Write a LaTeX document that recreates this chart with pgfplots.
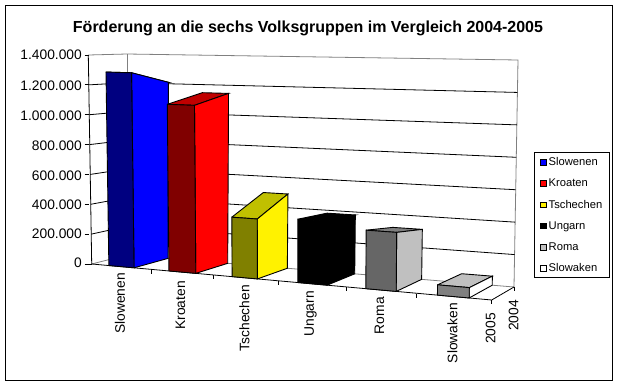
\documentclass[border=0pt]{standalone}
\usepackage{pgfplots}
\usepackage{fontspec}
\setmainfont{Liberation Sans}
\pgfplotsset{compat=1.18}
\definecolor{navyf}{HTML}{000080}
\definecolor{kf}{HTML}{800000}
\definecolor{kt}{HTML}{C00000}
\definecolor{tf}{HTML}{808000}
\definecolor{tt}{HTML}{C0C000}
\definecolor{rf}{HTML}{666666}
\definecolor{rs}{HTML}{C0C0C0}
\definecolor{rt}{HTML}{808080}
% a facet of the chart: (u,v,w) = (category position, depth 0=2005 1=2004, value)
\pgfkeys{/pgfplots/table/proj/.style={row sep=\\,
    x expr={px(\thisrow{u},\thisrow{v},\thisrow{w})},
    y expr={py(\thisrow{u},\thisrow{v},\thisrow{w})}}}
\pgfplotsset{
  legsq/.style={legend image code/.code={\draw[draw=black,line width=0.8pt,##1] (0pt,-2.8pt) rectangle (5.6pt,2.8pt);}},
}
% one 3-D area block: left edge, right edge, value 2005, value 2004, front, side, top colours
\newcommand{\block}[7]{%
  \addplot[forget plot,fill=#7,draw=black,line width=0.9pt] table[proj] {u v w\\ #1 0 #3\\ #2 0 #3\\ #2 1 #4\\ #1 1 #4\\ #1 0 #3\\};
  \addplot[forget plot,fill=#6,draw=black,line width=0.9pt] table[proj] {u v w\\ #2 0 0\\ #2 1 0\\ #2 1 #4\\ #2 0 #3\\ #2 0 0\\};
  \addplot[forget plot,fill=#5,draw=black,line width=0.9pt] table[proj] {u v w\\ #1 0 0\\ #2 0 0\\ #2 0 #3\\ #1 0 #3\\ #1 0 0\\};
}
\newcommand{\grid}[1]{%
  \addplot[forget plot,black,line width=0.8pt] table[proj] {u v w\\ 0 0 #1\\ 0 1 #1\\ 6 1 #1\\};
  \addplot[forget plot,black,line width=0.8pt] table[row sep=\\,x=xx,y expr={py(0,0,\thisrow{w})}] {xx w\\ 84.5 #1\\ 89 #1\\};
}
\begin{document}
\begin{tikzpicture}[
  declare function={
    tq(\u)=\u/(6.8-0.13333*\u);
    bx(\t,\v)=(91.7+400*\t)*(1-\v)+(127+387*\t)*\v;
    tx(\t,\v)=(88.3+406.7*\t)*(1-\v)+(127+391*\t)*\v;
    by(\t,\v)=(264+36*\t)*(1-\v)+(255+32*\t)*\v;
    ty(\t,\v)=(55+9*\t)*(1-\v)+(54+6*\t)*\v;
    px(\u,\v,\w)=bx(tq(\u),\v)+(tx(tq(\u),\v)-bx(tq(\u),\v))*\w/1400000;
    py(\u,\v,\w)=by(tq(\u),\v)+(ty(tq(\u),\v)-by(tq(\u),\v))*\w/1400000;
  }]
\begin{axis}[
  scale only axis, width=619pt, height=386pt,
  xmin=0, xmax=619, ymin=0, ymax=386, y dir=reverse,
  axis line style={draw=none}, ticks=none, clip=false,
  legend style={at={(axis cs:534.3,152.3)},anchor=north west,draw=black,line width=0.8pt,
    font=\fontsize{11.2}{12}\selectfont,inner xsep=5.6pt,inner ysep=2.6pt,row sep=7.9pt},
  legend cell align=left,
]
\addlegendimage{legsq,fill=blue}\addlegendentry{Slowenen}
\addlegendimage{legsq,fill=red}\addlegendentry{Kroaten}
\addlegendimage{legsq,fill=yellow}\addlegendentry{Tschechen}
\addlegendimage{legsq,fill=black}\addlegendentry{Ungarn}
\addlegendimage{legsq,fill=rs}\addlegendentry{Roma}
\addlegendimage{legsq,fill=white}\addlegendentry{Slowaken}
% frame
\addplot[forget plot,black,line width=1pt] coordinates {(5.7,5) (612,5) (612,380) (5.7,380) (5.7,5)};
% walls
\addplot[forget plot,gray,line width=0.8pt] table[proj] {u v w\\ 0 0 1400000\\ 0 1 1400000\\ 6 1 1400000\\ 6 1 0\\ 0 1 0\\ 0 0 0\\};
\addplot[forget plot,gray,line width=0.8pt] table[proj] {u v w\\ 0 1 0\\ 0 1 1400000\\};
\grid{1200000}\grid{1000000}\grid{800000}\grid{600000}\grid{400000}\grid{200000}
\addplot[forget plot,black,line width=0.8pt] coordinates {(84.5,55) (89,55)};
\addplot[forget plot,black,line width=0.8pt] coordinates {(84.5,264) (92,264)};
% value axis, floor edges
\addplot[forget plot,black,line width=0.8pt] table[proj] {u v w\\ 0 0 1400000\\ 0 0 0\\ 6 0 0\\ 6 1 0\\};
% blocks: 2005 and 2004 values
\block{0.29}{0.71}{1289000}{1210000}{navyf}{blue}{blue}
\block{1.28}{1.71}{1089000}{1145000}{kf}{red}{kt}
\block{2.28}{2.67}{381000}{491000}{tf}{yellow}{tt}
\block{3.28}{3.71}{398000}{381000}{black}{black}{black}
\block{4.27}{4.70}{360000}{317000}{rf}{rs}{rt}
\block{5.27}{5.70}{62000}{56000}{rt}{white}{rs}
% floor ticks
\addplot[forget plot,black,line width=0.8pt] coordinates {(151.7,269.5) (151.7,273.5)};
\addplot[forget plot,black,line width=0.8pt] coordinates {(213.3,275) (213.3,279)};
\addplot[forget plot,black,line width=0.8pt] coordinates {(278.5,281) (278.5,285)};
\addplot[forget plot,black,line width=0.8pt] coordinates {(346,287) (346,291)};
\addplot[forget plot,black,line width=0.8pt] coordinates {(416,293.5) (416,297.5)};
\addplot[forget plot,black,line width=0.8pt] coordinates {(491.7,300) (491.7,304)};
\addplot[forget plot,black,line width=0.8pt] coordinates {(514,287) (514,291)};
% text
\node[font=\fontsize{16}{18}\selectfont\bfseries,anchor=center] at (axis cs:308,28) {Förderung an die sechs Volksgruppen im Vergleich 2004-2005};
\foreach \lab/\yy in {1.400.000/55,1.200.000/85.7,1.000.000/116,800.000/146,600.000/176,400.000/204.5,200.000/234,0/263}{
  \edef\temp{\noexpand\node[font=\noexpand\fontsize{13.8}{15}\noexpand\selectfont,anchor=east,inner sep=0pt] at (axis cs:82,\yy) {\lab};}\temp
}
\foreach \lab/\xx/\yy in {Slowenen/120/273,Kroaten/180.5/281,Tschechen/244.5/285,Ungarn/310.5/291,Roma/379.5/297,Slowaken/452.5/303,2005/490.5/313,2004/513.5/300}{
  \edef\temp{\noexpand\node[font=\noexpand\fontsize{13.8}{15}\noexpand\selectfont,rotate=90,anchor=east,inner sep=0pt] at (axis cs:\xx,\yy) {\lab};}\temp
}
\end{axis}
\end{tikzpicture}
\end{document}
